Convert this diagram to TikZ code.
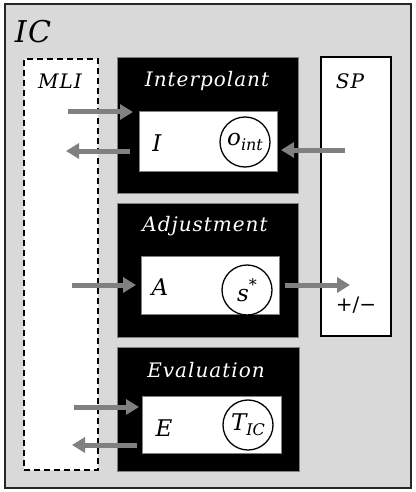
\documentclass[tikz,border=0pt]{standalone}
\usepackage{fontspec}
\setmainfont{DejaVu Serif}
\newfontfamily\lblfont{DejaVu Serif}[LetterSpace=5]
\usetikzlibrary{arrows.meta}
\definecolor{bggray}{HTML}{D9D9D9}
\definecolor{arrgray}{HTML}{808080}
\newcommand{\subtxt}[1]{\raisebox{-0.45ex}{\fontsize{16}{16}\selectfont #1}}
\begin{document}
\begin{tikzpicture}[x=1pt,y=-1pt,
  box/.style={rectangle,inner sep=0pt,anchor=center},
  blackbox/.style={box,fill=black,draw=arrgray,line width=0.6pt,minimum width=181pt},
  whitebox/.style={box,fill=white,draw=arrgray,line width=0.6pt,minimum width=138pt},
  ring/.style={circle,draw=black,line width=1.3pt,fill=white,minimum size=50pt,inner sep=0pt,font=\itshape\fontsize{23}{25}\selectfont},
  lbl/.style={inner sep=0pt,anchor=center,font=\lblfont\itshape\fontsize{20}{22}\selectfont},
  wlbl/.style={lbl,text=white},
  big/.style={inner sep=0pt,anchor=center,font=\itshape\fontsize{23}{25}\selectfont},
  flow/.style={draw=arrgray,line width=5pt,-{Triangle[length=13pt,width=15pt]}}]
\useasboundingbox (0,0) rectangle (415,492);
% outer frame
\node[box,fill=bggray,draw=black!85,line width=2pt,minimum width=406pt,minimum height=483pt] (ic) at (207.5,246) {};
\node[inner sep=0pt,anchor=center,font=\lblfont\itshape\fontsize{30}{32}\selectfont] (iclbl) at (33,32) {IC};
% MLI
\node[box,fill=white,draw=black,line width=1.4pt,dash pattern=on 6pt off 4pt,minimum width=74pt,minimum height=411pt] (mli) at (61,264.5) {};
\node[lbl] (mlilbl) at (60,81) {MLI};
% SP
\node[box,fill=white,draw=black,line width=1.2pt,minimum width=70pt,minimum height=279pt] (sp) at (356,196.5) {};
\node[lbl] (splbl) at (350,81) {SP};
\node[inner sep=0pt,anchor=center,font=\fontsize{20}{22}\selectfont] (pm) at (356,305) {+/−};
% Interpolant
\node[blackbox,minimum height=136pt] (interp) at (207.5,125) {};
\node[wlbl] (interplbl) at (207,81) {Interpolant};
\node[whitebox,minimum height=60pt] (iin) at (208,141) {};
\node[big] (ilet) at (157,143) {I};
\node[ring] (oint) at (245,142) {o\subtxt{int}};
% Adjustment
\node[blackbox,minimum height=134pt] (adj) at (207.5,270) {};
\node[wlbl] (adjlbl) at (205,226) {Adjustment};
\node[whitebox,minimum height=58pt] (ain) at (210,285) {};
\node[big] (alet) at (160,287) {A};
\node[ring] (sstar) at (247,290) {s\raisebox{0.9ex}{\fontsize{16}{16}\selectfont *}};
% Evaluation
\node[blackbox,minimum width=182pt,minimum height=124pt] (eval) at (208,409) {};
\node[wlbl] (evallbl) at (206,370) {Evaluation};
\node[whitebox,minimum width=139pt,minimum height=57pt] (ein) at (211.5,424.5) {};
\node[big] (elet) at (164,428) {E};
\node[ring] (tic) at (248,425) {T\subtxt{IC}};
% arrow end points
\coordinate (a1s) at (68,112);  \coordinate (a1e) at (133,112);
\coordinate (a2s) at (130,151); \coordinate (a2e) at (66,151);
\coordinate (a3s) at (345,150); \coordinate (a3e) at (281,150);
\coordinate (a4s) at (72,285);  \coordinate (a4e) at (136,285);
\coordinate (a5s) at (285,285); \coordinate (a5e) at (350,285);
\coordinate (a6s) at (74,407);  \coordinate (a6e) at (139,407);
\coordinate (a7s) at (137,445); \coordinate (a7e) at (72,445);
\draw[flow] (a1s) -- (a1e);
\draw[flow] (a2s) -- (a2e);
\draw[flow] (a3s) -- (a3e);
\draw[flow] (a4s) -- (a4e);
\draw[flow] (a5s) -- (a5e);
\draw[flow] (a6s) -- (a6e);
\draw[flow] (a7s) -- (a7e);
\end{tikzpicture}
\end{document}
